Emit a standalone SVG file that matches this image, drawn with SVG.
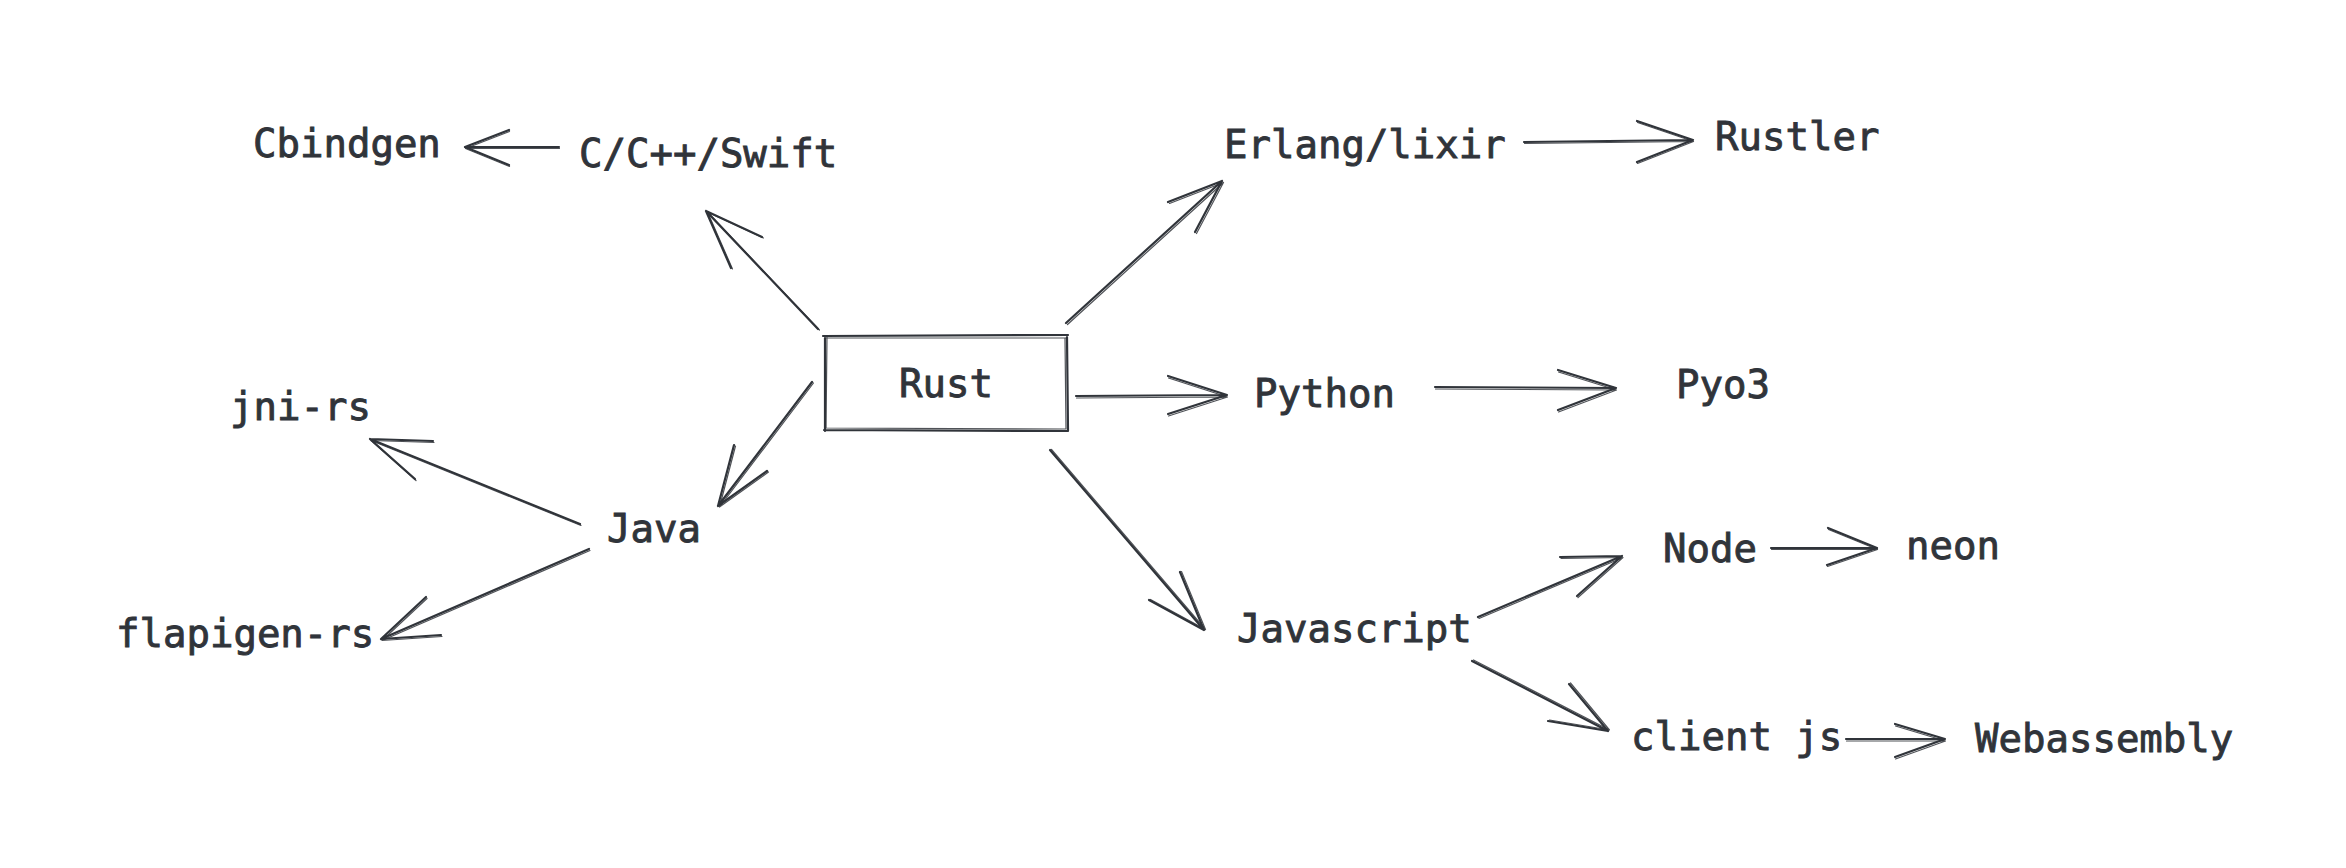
<svg xmlns="http://www.w3.org/2000/svg" xmlns:xlink="http://www.w3.org/1999/xlink" width="2346" height="868" viewBox="0 0 2346 868">
<style>
  .bg { fill: #ffffff; }
  .lbl { font-family: "DejaVu Sans Mono", "Liberation Mono", monospace; font-size: 39px; fill: #30343a; stroke: #30343a; stroke-width: 0.9; }
  .ln { fill: none; stroke: #30343a; stroke-width: 2.2; stroke-linecap: round; stroke-linejoin: round; }
  .gh { fill: none; stroke: #30343a; stroke-width: 1.2; stroke-linecap: round; stroke-linejoin: round; opacity: 0.85; }
</style>
<defs>
  <path id="c1" d="M818,329 L706,211 M762,237 L706,211 L731,268"/>
  <path id="c2" d="M559,147 L465,147 M509,130 L465,147 L509,165"/>
  <path id="c3" d="M1066,323 L1222,181 M1168,202 L1222,181 L1195,232"/>
  <path id="c4" d="M1524,142 L1693,140 M1637,121 L1693,140 L1637,162"/>
  <path id="c5" d="M1076,396 L1227,395 M1168,376 L1227,395 L1168,414"/>
  <path id="c6" d="M1435,387 L1616,388 M1558,370 L1616,388 L1558,410"/>
  <path id="c7" d="M812,382 L718,506 M734,445 L718,506 L767,471"/>
  <path id="c8" d="M580,524 L370,439 M433,441 L370,439 L415,479"/>
  <path id="c9" d="M589,549 L381,639 M426,597 L381,639 L441,635"/>
  <path id="c10" d="M1050,450 L1204,630 M1180,572 L1204,630 L1149,600"/>
  <path id="c11" d="M1478,617 L1622,556 M1560,557 L1622,556 L1577,596"/>
  <path id="c12" d="M1472,661 L1608,731 M1548,721 L1608,731 L1569,684"/>
  <path id="c13" d="M1771,548 L1877,548 M1828,528 L1877,548 L1827,565"/>
  <path id="c14" d="M1846,739 L1945,739 M1895,724 L1945,739 L1895,757"/>
</defs>
<rect class="bg" x="0" y="0" width="2346" height="868"/>

<g id="connectors">
  <use xlink:href="#c1" class="ln"/><use xlink:href="#c1" class="gh" transform="translate(1.5,1)"/>
  <use xlink:href="#c2" class="ln"/><use xlink:href="#c2" class="gh" transform="translate(0.5,1.5)"/>
  <use xlink:href="#c3" class="ln"/><use xlink:href="#c3" class="gh" transform="translate(1.5,1.5)"/>
  <use xlink:href="#c4" class="ln"/><use xlink:href="#c4" class="gh" transform="translate(0.5,1.5)"/>
  <use xlink:href="#c5" class="ln"/><use xlink:href="#c5" class="gh" transform="translate(0.5,2)"/>
  <use xlink:href="#c6" class="ln"/><use xlink:href="#c6" class="gh" transform="translate(0.5,2)"/>
  <use xlink:href="#c7" class="ln"/><use xlink:href="#c7" class="gh" transform="translate(1.5,1)"/>
  <use xlink:href="#c8" class="ln"/><use xlink:href="#c8" class="gh" transform="translate(1,1.5)"/>
  <use xlink:href="#c9" class="ln"/><use xlink:href="#c9" class="gh" transform="translate(1,1.5)"/>
  <use xlink:href="#c10" class="ln"/><use xlink:href="#c10" class="gh" transform="translate(1.5,-0.5)"/>
  <use xlink:href="#c11" class="ln"/><use xlink:href="#c11" class="gh" transform="translate(1,1.5)"/>
  <use xlink:href="#c12" class="ln"/><use xlink:href="#c12" class="gh" transform="translate(1.5,-1)"/>
  <use xlink:href="#c13" class="ln"/><use xlink:href="#c13" class="gh" transform="translate(0.5,1.5)"/>
  <use xlink:href="#c14" class="ln"/><use xlink:href="#c14" class="gh" transform="translate(0.5,2)"/>
</g>

<g id="node-rust">
  <path class="ln" d="M823,336 L1068,335 M825,338 L825,431 M1067,337 L1068,431 M824,430 L1068,431"/>
  <path class="gh" d="M826,338 L1066,338 M827,336 L826,428 M1065,338 L1066,429 M826,428 L1066,429"/>
  <text class="lbl" x="899" y="397">Rust</text>
</g>
<g id="node-cswift"><text class="lbl" x="579" y="167">C/C++/Swift</text></g>
<g id="node-cbindgen"><text class="lbl" x="253" y="157">Cbindgen</text></g>
<g id="node-erlang"><text class="lbl" x="1224" y="158">Erlang/lixir</text></g>
<g id="node-rustler"><text class="lbl" x="1715" y="150">Rustler</text></g>
<g id="node-python"><text class="lbl" x="1254" y="407">Python</text></g>
<g id="node-pyo3"><text class="lbl" x="1676" y="398">Pyo3</text></g>
<g id="node-java"><text class="lbl" x="607" y="542">Java</text></g>
<g id="node-jnirs"><text class="lbl" x="230" y="420">jni-rs</text></g>
<g id="node-flapigen"><text class="lbl" x="116" y="647">flapigen-rs</text></g>
<g id="node-javascript"><text class="lbl" x="1237" y="642">Javascript</text></g>
<g id="node-node"><text class="lbl" x="1663" y="562">Node</text></g>
<g id="node-neon"><text class="lbl" x="1906" y="559">neon</text></g>
<g id="node-clientjs"><text class="lbl" x="1631" y="750">client js</text></g>
<g id="node-webassembly"><text class="lbl" x="1975" y="752">Webassembly</text></g>
</svg>
